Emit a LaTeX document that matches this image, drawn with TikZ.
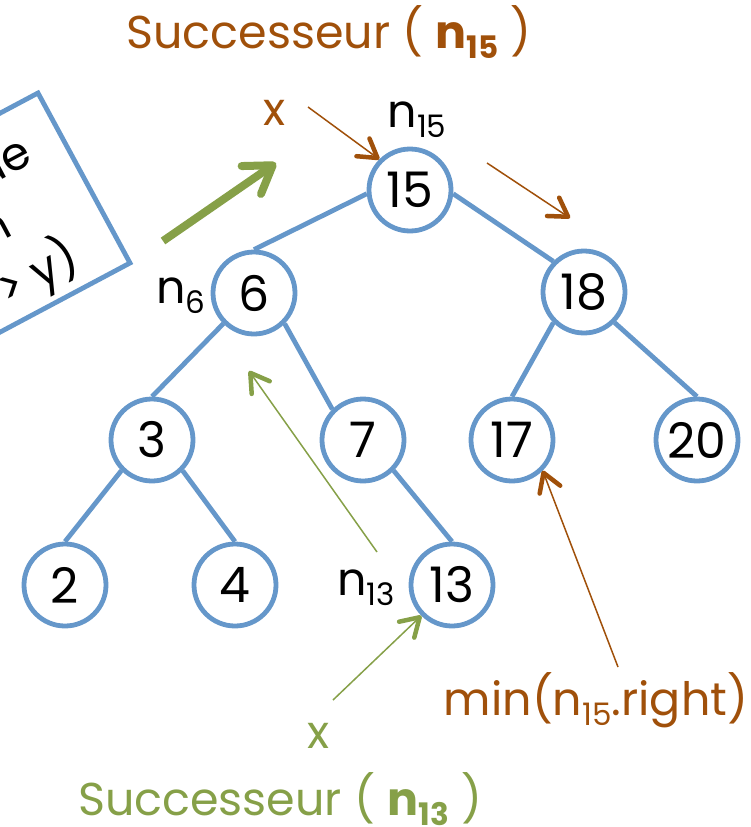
\documentclass[tikz,border=0pt]{standalone}
\usepackage{fontspec}
\setmainfont{Poppins}
\usetikzlibrary{arrows.meta}
\definecolor{treeblue}{RGB}{101,151,202}
\definecolor{rust}{RGB}{160,80,10}
\definecolor{moss}{RGB}{134,160,72}
\newcommand{\sbs}[1]{\raisebox{-10pt}{\fontsize{31}{33}\selectfont #1}}
\tikzset{
  bstnode/.style={circle, draw=treeblue, line width=4.8pt, minimum size=82pt, inner sep=0pt, font=\fontsize{49}{52}\selectfont},
  lbl/.style={inner sep=0pt, font=\fontsize{46}{50}\selectfont},
  link/.style={draw=treeblue, line width=4.8pt},
  rarr/.style={draw=rust, line width=1.5pt, -{Straight Barb[length=18pt,width=22pt,line width=4.5pt,round]}},
  garr/.style={draw=moss, line width=1.5pt, -{Straight Barb[length=18pt,width=22pt,line width=4.5pt,round]}},
  bigarr/.style={draw=moss, line width=8pt, -{Straight Barb[length=26pt,width=34pt,line width=8pt,round]}},
}

\begin{document}
\begin{tikzpicture}[x=1pt, y=-1pt]
  \path[use as bounding box, clip] (0,0) rectangle (750,827);

  \draw[treeblue, line width=4.8pt] (-227,234) -- (38,93) -- (130,263) -- (-135,404);
  \node[lbl, rotate=28, anchor=base east] (fr1) at (35,162) {ue};
  \node[lbl, rotate=28, anchor=base east] (fr2) at (15,235) {n};
  \node[lbl, rotate=28, anchor=base east] (fr3) at (82,267) {> y)};

  \node[bstnode] (k15) at (410,190) {15};
  \node[bstnode] (k6) at (254,293) {6};
  \node[bstnode] (k18) at (584,292) {18};
  \node[bstnode] (k3) at (152,440) {3};
  \node[bstnode] (k7) at (363,440) {7};
  \node[bstnode] (k17) at (512,440) {17};
  \node[bstnode] (k20) at (697,440) {20};
  \node[bstnode] (k2) at (65,585) {2};
  \node[bstnode] (k4) at (235,585) {4};
  \node[bstnode] (k13) at (452,585) {13};

  \draw[link] (k15.185) -- (k6.north);
  \draw[link] (k15.355) -- (k18.north west);
  \draw[link] (k6.south west) -- (k3.north);
  \draw[link] (k6.south east) -- (k7.north west);
  \draw[link] (k18.south west) -- (k17.north);
  \draw[link] (k18.south east) -- (k20.north);
  \draw[link] (k3.south west) -- (k2.north);
  \draw[link] (k3.south east) -- (k4.north);
  \draw[link] (k7.south east) -- (k13.north);

  \node[lbl, text=rust, anchor=base] (ttl15) at (329,48) {Successeur ( \textbf{n\sbs{15}} )};
  \node[lbl, text=rust, anchor=base] (x15) at (275,125) {x};
  \node[lbl, anchor=base] (n15) at (417,127) {n\sbs{15}};
  \node[lbl, anchor=base] (n6) at (181,303) {n\sbs{6}};
  \node[lbl, anchor=base] (n13) at (366,595) {n\sbs{13}};
  \node[lbl, text=moss, anchor=base] (x13) at (319,748) {x};
  \node[lbl, text=moss, anchor=base] (ttl13) at (280,815) {Successeur ( \textbf{n\sbs{13}} )};
  \node[lbl, text=rust, anchor=base] (minr) at (596,715) {min(n\sbs{15}.right)};

  \coordinate (r1s) at (308,107);
  \coordinate (r2s) at (487,163);
  \coordinate (r2e) at (570,218);
  \coordinate (r17s) at (618,667);
  \coordinate (gs) at (163,241);
  \coordinate (ge) at (276,163);
  \coordinate (g6s) at (377,552);
  \coordinate (g6e) at (249,371);
  \coordinate (g13s) at (333,700);

  \draw[rarr] (r1s) -- (k15.north west);
  \draw[rarr] (r2s) -- (r2e);
  \draw[rarr] (r17s) -- (k17.south east);
  \draw[bigarr] (gs) -- (ge);
  \draw[garr] (g6s) -- (g6e);
  \draw[garr] (g13s) -- (k13.south west);
\end{tikzpicture}
\end{document}
